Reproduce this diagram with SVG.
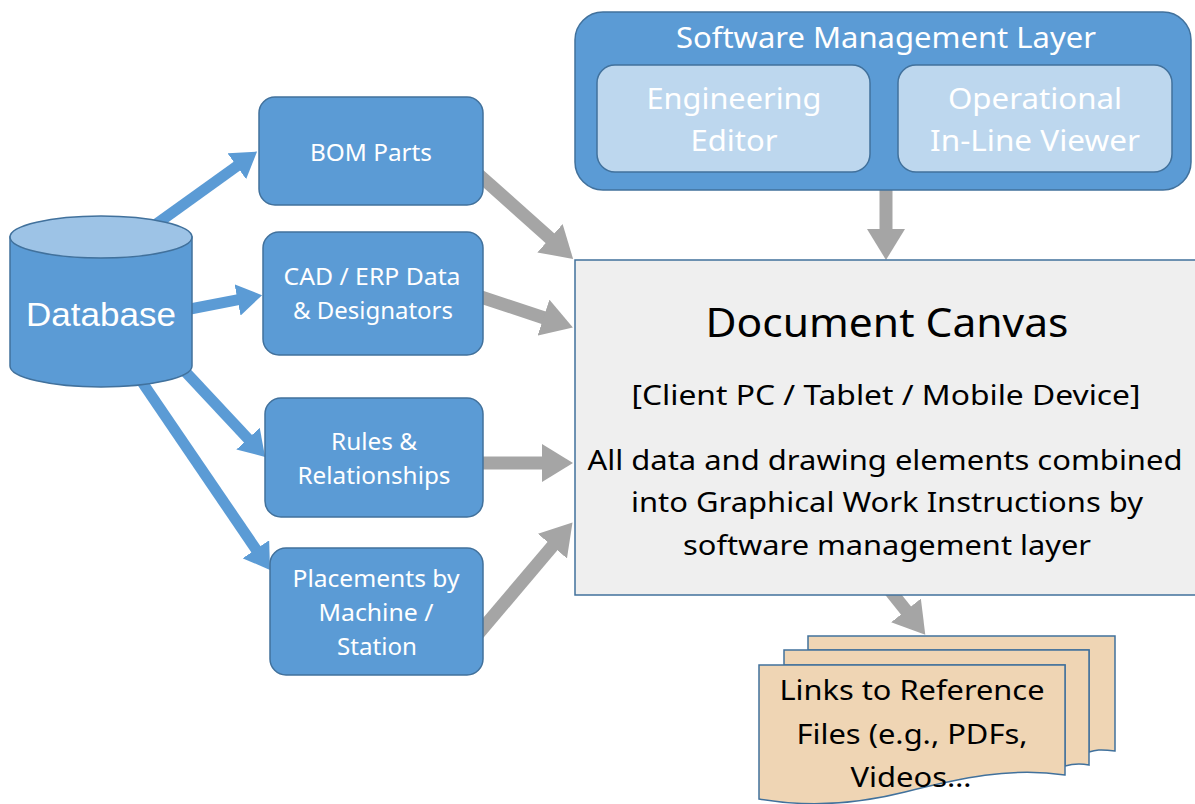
<svg xmlns="http://www.w3.org/2000/svg" width="1195" height="804" viewBox="0 0 1195 804">
<style>
.box{fill:#5b9bd5;stroke:#41719c;stroke-width:1.5}
.inner{fill:#bdd7ee;stroke:#41719c;stroke-width:1.5}
.wt{fill:#ffffff;font-family:"Noto Sans","Liberation Sans",sans-serif;text-anchor:middle}
.bt{fill:#000000;font-family:"Noto Sans","Liberation Sans",sans-serif;text-anchor:middle}
.blue{stroke:#5b9bd5;stroke-width:11;fill:none;marker-end:url(#hb)}
.gray{stroke:#a5a5a5;stroke-width:13;fill:none;marker-end:url(#hg)}
.doc{fill:#efd5b4;stroke:#41719c;stroke-width:1.5}
</style>
<defs>
<marker id="hb" markerUnits="userSpaceOnUse" markerWidth="26" markerHeight="32" refX="1" refY="16" orient="auto" viewBox="0 0 26 32">
<path d="M0,0 L25,16 L0,32 Z" fill="#5b9bd5"/>
</marker>
<marker id="hg" markerUnits="userSpaceOnUse" markerWidth="32" markerHeight="38" refX="1" refY="19" orient="auto" viewBox="0 0 32 38">
<path d="M0,0 L31,19 L0,38 Z" fill="#a5a5a5"/>
</marker>
</defs>

<g id="connectors">
<line class="blue" x1="155" y1="225" x2="237.6" y2="165.6"/>
<line class="blue" x1="185" y1="310" x2="238.5" y2="299.7"/>
<line class="blue" x1="180" y1="366" x2="248.7" y2="439.4"/>
<line class="blue" x1="140" y1="379" x2="256.5" y2="550.1"/>
<line class="gray" x1="478" y1="174" x2="550.7" y2="238.9"/>
<line class="gray" x1="478" y1="296" x2="544.4" y2="318"/>
<line class="gray" x1="478" y1="463" x2="543" y2="463"/>
<line class="gray" x1="478" y1="634" x2="553.1" y2="545.4"/>
<line class="gray" x1="886" y1="185" x2="886" y2="230"/>
<line class="gray" x1="888" y1="588" x2="906.6" y2="611.3"/>
</g>

<g id="database">
<path class="box" d="M10,237 V366 A91,21 0 0 0 192,366 V237 Z"/>
<ellipse cx="101" cy="237" rx="91" ry="21" fill="#9dc3e6" stroke="#41719c" stroke-width="1.5"/>
<text x="101" y="326" fill="#ffffff" font-family="'Liberation Sans',Arial,sans-serif" font-size="33" text-anchor="middle" textLength="150" lengthAdjust="spacingAndGlyphs">Database</text>
</g>

<g id="bom">
<rect class="box" x="259" y="97" width="224" height="108" rx="16"/>
<text class="wt" x="371" y="161" font-size="23" textLength="122" lengthAdjust="spacingAndGlyphs">BOM Parts</text>
</g>

<g id="cad">
<rect class="box" x="263" y="232" width="220" height="123" rx="16"/>
<text class="wt" x="372" y="285" font-size="23" textLength="177" lengthAdjust="spacingAndGlyphs">CAD / ERP Data</text>
<text class="wt" x="373" y="319" font-size="23" textLength="160" lengthAdjust="spacingAndGlyphs">&amp; Designators</text>
</g>

<g id="rules">
<rect class="box" x="265" y="398" width="218" height="119" rx="16"/>
<text class="wt" x="374" y="450" font-size="23" textLength="86" lengthAdjust="spacingAndGlyphs">Rules &amp;</text>
<text class="wt" x="374" y="484" font-size="23" textLength="153" lengthAdjust="spacingAndGlyphs">Relationships</text>
</g>

<g id="placements">
<rect class="box" x="270" y="548" width="213" height="127" rx="16"/>
<text class="wt" x="376" y="587" font-size="23" textLength="167" lengthAdjust="spacingAndGlyphs">Placements by</text>
<text class="wt" x="376" y="621" font-size="23" textLength="115" lengthAdjust="spacingAndGlyphs">Machine /</text>
<text class="wt" x="377" y="655" font-size="23" textLength="80" lengthAdjust="spacingAndGlyphs">Station</text>
</g>

<g id="sml">
<rect class="box" x="575" y="12" width="616" height="178" rx="28"/>
<text class="wt" x="886" y="48" font-size="29" textLength="420" lengthAdjust="spacingAndGlyphs">Software Management Layer</text>
<g id="editor">
<rect class="inner" x="597" y="65" width="273" height="107" rx="18"/>
<text class="wt" x="734" y="109" font-size="29" textLength="175" lengthAdjust="spacingAndGlyphs">Engineering</text>
<text class="wt" x="734" y="151" font-size="29" textLength="87" lengthAdjust="spacingAndGlyphs">Editor</text>
</g>
<g id="viewer">
<rect class="inner" x="898" y="65" width="274" height="107" rx="18"/>
<text class="wt" x="1035" y="109" font-size="29" textLength="174" lengthAdjust="spacingAndGlyphs">Operational</text>
<text class="wt" x="1035" y="151" font-size="29" textLength="210" lengthAdjust="spacingAndGlyphs">In-Line Viewer</text>
</g>
</g>

<g id="canvas">
<rect x="575" y="260" width="630" height="335" fill="#efefef" stroke="#41719c" stroke-width="1.5"/>
<text class="bt" x="887" y="337" font-size="40" textLength="363" lengthAdjust="spacingAndGlyphs">Document Canvas</text>
<text class="bt" x="886" y="405" font-size="28" textLength="509" lengthAdjust="spacingAndGlyphs">[Client PC / Tablet / Mobile Device]</text>
<text class="bt" x="885" y="470" font-size="28" textLength="595" lengthAdjust="spacingAndGlyphs">All data and drawing elements combined</text>
<text class="bt" x="887" y="512" font-size="28" textLength="512" lengthAdjust="spacingAndGlyphs">into Graphical Work Instructions by</text>
<text class="bt" x="887" y="555" font-size="28" textLength="408" lengthAdjust="spacingAndGlyphs">software management layer</text>
</g>

<g id="reference-files">
<path class="doc" d="M808,636 H1115 V751 C1100,749 1095,750 1089,752 V650 H808 Z"/>
<path class="doc" d="M784,650 H1089 V765 C1078,763 1072,764 1065,766 V665 H784 Z"/>
<path class="doc" d="M759,665 H1065 V775 C1010,767 960,778 905,792 C850,806 800,806 759,799 Z"/>
<text class="bt" x="912" y="700" font-size="28" textLength="265" lengthAdjust="spacingAndGlyphs">Links to Reference</text>
<text class="bt" x="912" y="744" font-size="28" textLength="231" lengthAdjust="spacingAndGlyphs">Files (e.g., PDFs,</text>
<text class="bt" x="911" y="787" font-size="28" textLength="121" lengthAdjust="spacingAndGlyphs">Videos…</text>
</g>
</svg>
